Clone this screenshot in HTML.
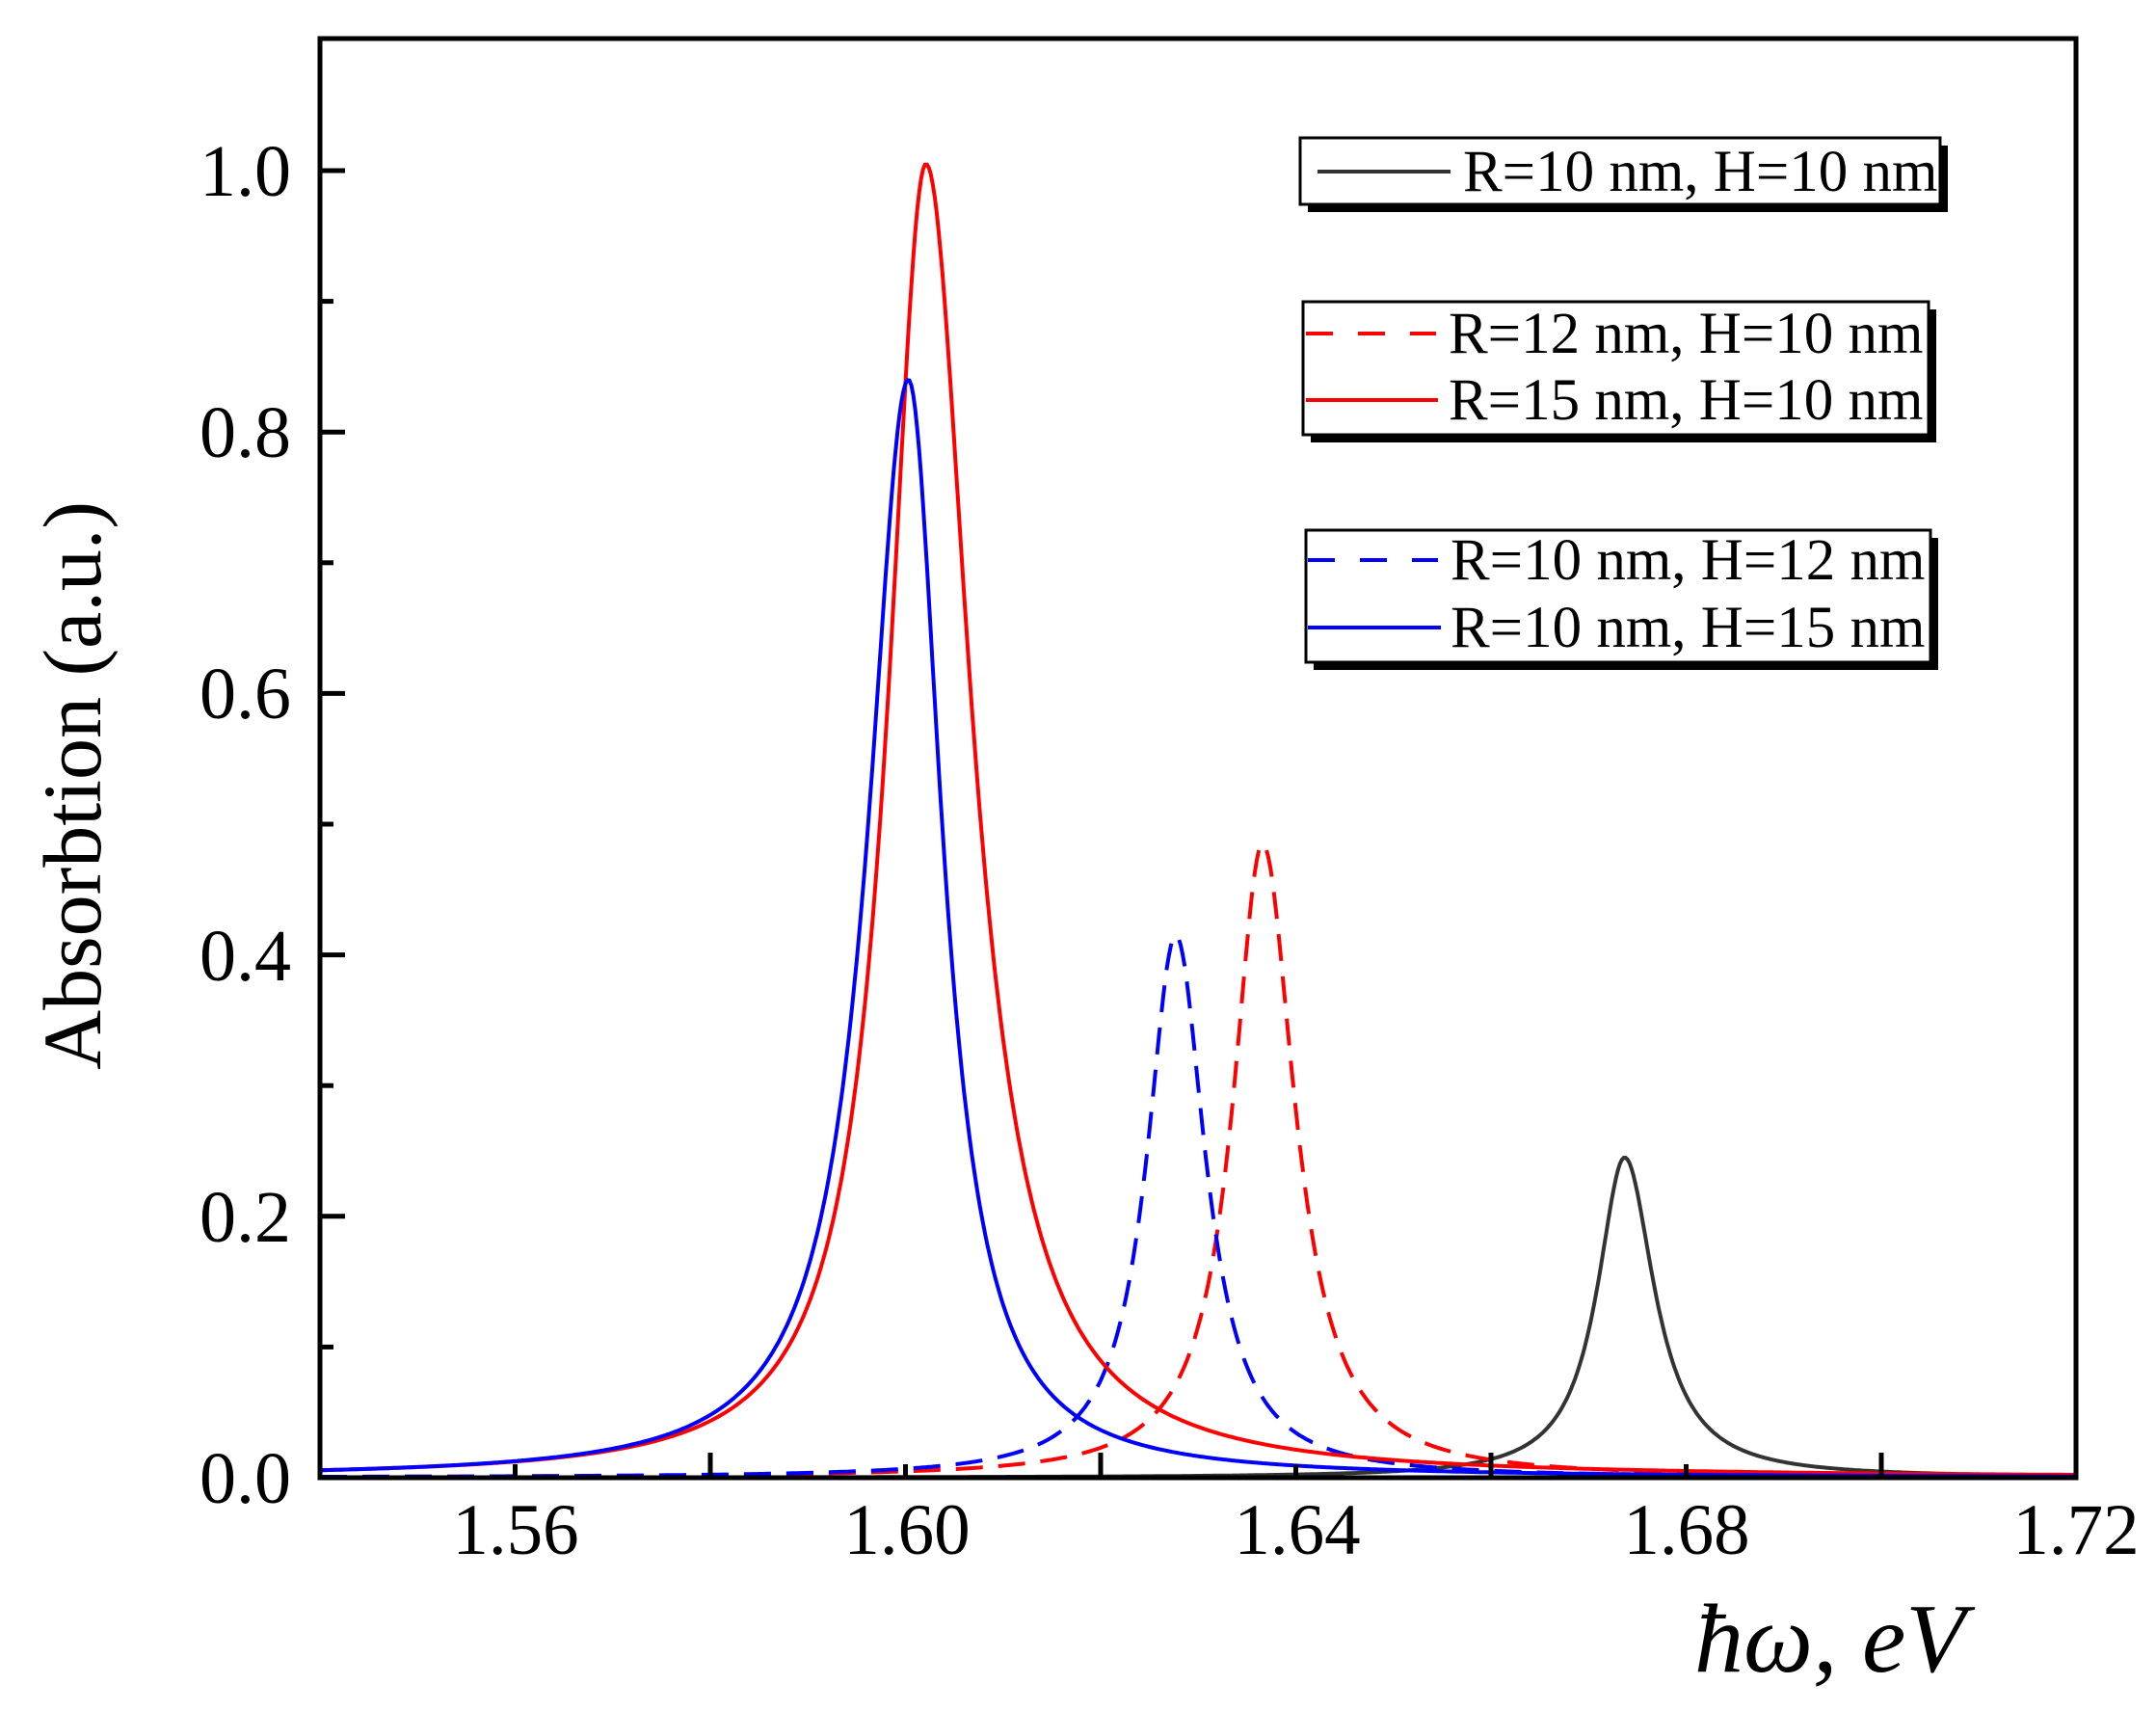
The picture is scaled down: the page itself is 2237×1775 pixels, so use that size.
<!DOCTYPE html>
<html><head><meta charset="utf-8">
<style>
html,body{margin:0;padding:0;background:#fff;}
svg{display:block;}
text{font-family:"Liberation Serif",serif;fill:#000;}
</style></head>
<body>
<svg id="s" width="2237" height="1775" viewBox="0 0 2237 1775" xmlns="http://www.w3.org/2000/svg">
<rect x="0" y="0" width="2237" height="1775" fill="#fff"/>
<g id="curves"></g>
<rect x="332" y="40" width="1822" height="1493" fill="none" stroke="#000" stroke-width="5"/>
<g id="ticks" stroke="#000" stroke-width="5"></g>
<g font-size="76" text-anchor="end">
<text x="302" y="1559">0.0</text>
<text x="302" y="1288">0.2</text>
<text x="302" y="1017">0.4</text>
<text x="302" y="745">0.6</text>
<text x="302" y="474">0.8</text>
<text x="302" y="203">1.0</text>
</g>
<g font-size="75" text-anchor="middle">
<text x="535" y="1612">1.56</text>
<text x="941" y="1612">1.60</text>
<text x="1346" y="1612">1.64</text>
<text x="1750" y="1612">1.68</text>
<text x="2154" y="1612">1.72</text>
</g>
<text transform="translate(104,815) rotate(-90)" font-size="86" text-anchor="middle">Absorbtion (a.u.)</text>
<text x="1758" y="1734" font-size="102" font-style="italic">ħω, eV</text>

<!-- legends -->
<rect x="1357" y="151" width="664" height="69" fill="#000"/>
<rect x="1349" y="143" width="664" height="69" fill="#fff" stroke="#000" stroke-width="3"/>
<line x1="1367" y1="178" x2="1505" y2="178" stroke="#333" stroke-width="4"/>
<text x="1518" y="198" font-size="61">R=10 nm, H=10 nm</text>

<rect x="1360" y="321" width="649" height="138" fill="#000"/>
<rect x="1352" y="313" width="649" height="138" fill="#fff" stroke="#000" stroke-width="3"/>
<line x1="1355" y1="346" x2="1490" y2="346" stroke="#f00" stroke-width="4" stroke-dasharray="28,26"/>
<text x="1503" y="366" font-size="61">R=12 nm, H=10 nm</text>
<line x1="1355" y1="415" x2="1492" y2="415" stroke="#f00" stroke-width="4"/>
<text x="1503" y="435" font-size="61">R=15 nm, H=10 nm</text>

<rect x="1363" y="558" width="648" height="137" fill="#000"/>
<rect x="1355" y="550" width="648" height="137" fill="#fff" stroke="#000" stroke-width="3"/>
<line x1="1357" y1="581" x2="1492" y2="581" stroke="#00f" stroke-width="4" stroke-dasharray="28,26"/>
<text x="1505" y="601" font-size="61">R=10 nm, H=12 nm</text>
<line x1="1357" y1="651" x2="1495" y2="651" stroke="#00f" stroke-width="4"/>
<text x="1505" y="671" font-size="61">R=10 nm, H=15 nm</text>
</svg>
<script>
(function(){
var NS="http://www.w3.org/2000/svg";
function X(e){return 332+(e-1.54)/0.04*405;}
function Y(v){return 1533-v*1356;}
var ticks=document.getElementById('ticks');
function ln(x1,y1,x2,y2){var l=document.createElementNS(NS,'line');l.setAttribute('x1',x1);l.setAttribute('y1',y1);l.setAttribute('x2',x2);l.setAttribute('y2',y2);ticks.appendChild(l);}
for(var i=0;i<=8;i++){var e=1.54+i*0.02;var x=X(e);ln(x,1533,x,1533-(i%2?14:26));}
for(var j=0;j<=10;j++){var v=j*0.1;var y=Y(v);ln(332,y,332+(j%2?14:26),y);}
var series=[
 {c:'#333',p:1.6737,h:0.245,gl:0.0034,gr:0.0037,d:null},
 {c:'#f00',p:1.6366,h:0.485,gl:0.0037,gr:0.0040,d:'28,16'},
 {c:'#00f',p:1.6277,h:0.415,gl:0.0036,gr:0.0037,d:'28,16'},
 {c:'#f00',p:1.6021,h:1.005,gl:0.0047,gr:0.0056,d:null},
 {c:'#00f',p:1.6003,h:0.84,gl:0.0050,gr:0.0042,d:null}
];
var g=document.getElementById('curves');
series.forEach(function(s){
 var d='';
 for(var e=1.54;e<=1.72001;e+=0.0002){
  var gg=e<s.p?s.gl:s.gr;var dx=e-s.p;
  var v=s.h*gg*gg/(dx*dx+gg*gg);
  d+=(d?'L':'M')+X(e).toFixed(1)+','+Y(v).toFixed(1);
 }
 var p=document.createElementNS(NS,'path');
 p.setAttribute('d',d);p.setAttribute('fill','none');p.setAttribute('stroke',s.c);p.setAttribute('stroke-width','4');
 if(s.d)p.setAttribute('stroke-dasharray',s.d);
 g.appendChild(p);
});
})();
</script>
</body></html>
